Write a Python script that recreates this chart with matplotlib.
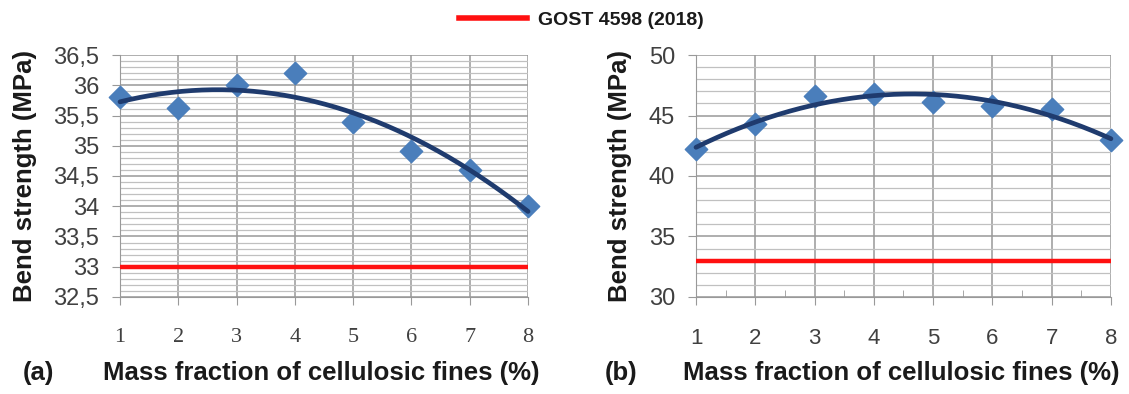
import numpy as np
import matplotlib.pyplot as plt
from matplotlib.lines import Line2D
from matplotlib.ticker import MultipleLocator, FuncFormatter

plt.rcParams['font.family'] = ['Liberation Sans', 'DejaVu Sans']

fraction = [1, 2, 3, 4, 5, 6, 7, 8]
strength_a = [35.8, 35.62, 36.0, 36.2, 35.4, 34.92, 34.6, 34.0]
strength_b = [42.2, 44.3, 46.6, 46.8, 46.1, 45.8, 45.5, 43.0]
gost_level = 33
gost_label = 'GOST 4598 (2018)'
xlabel = 'Mass fraction of cellulosic fines (%)'
ylabel = 'Bend strength (MPa)'

marker_col = '#4A7EBB'
trend_col = '#1F3B6E'
red = '#FF1010'
txt = '#1a1a1a'
tick_txt = '#404040'


def comma(v, pos):
    return ('%g' % v).replace('.', ',')


def draw(ax, y, ylim, major, minor, xfont):
    ax.set_xlim(1, 8)
    ax.set_ylim(*ylim)
    ax.yaxis.set_major_locator(MultipleLocator(major))
    ax.yaxis.set_minor_locator(MultipleLocator(minor))
    ax.yaxis.set_major_formatter(FuncFormatter(comma))
    ax.xaxis.set_major_locator(MultipleLocator(1))
    ax.grid(True, which='major', axis='both', color='#999999', lw=1.1)
    ax.grid(True, which='minor', axis='y', color='#c0c0c0', lw=0.9)
    ax.set_axisbelow(True)
    for s in ax.spines.values():
        s.set_visible(False)
    for side in ('bottom', 'left'):
        ax.spines[side].set_visible(True)
        ax.spines[side].set_color('#999999')
    ax.tick_params(axis='y', which='minor', length=0)
    ax.tick_params(axis='y', which='major', length=6, color='#999999',
                   pad=9, labelsize=17, labelcolor=tick_txt)
    ax.tick_params(axis='x', which='major', length=6, color='#999999',
                   pad=16, labelsize=16, labelcolor=tick_txt)
    for lab in ax.get_xticklabels():
        lab.set_family(xfont)

    ax.axhline(gost_level, color=red, lw=3.2, zorder=3)
    ax.scatter(fraction, y, marker='D', s=130, color=marker_col, zorder=4,
               clip_on=False)
    # polynomial trend line (order 2), as in the spreadsheet chart
    coef = np.polyfit(fraction, y, 2)
    xs = np.linspace(1, 8, 200)
    ax.plot(xs, np.polyval(coef, xs), color=trend_col, lw=3.4, zorder=5,
            clip_on=False, solid_capstyle='round')


fig = plt.figure(figsize=(11.29, 3.94), dpi=100)
ax1 = fig.add_axes([0.1063, 0.2462, 0.3614, 0.6142])
ax2 = fig.add_axes([0.6165, 0.2462, 0.3675, 0.6142])

draw(ax1, strength_a, (32.5, 36.5), 0.5, 0.1, 'Liberation Serif')
draw(ax2, strength_b, (30, 50), 5, 1, 'Liberation Sans')

ax2.xaxis.set_minor_locator(MultipleLocator(0.5))
ax2.tick_params(axis='x', which='minor', direction='in', length=5,
                color='#999999')

lab = dict(fontsize=18.5, fontweight='bold', color=txt)
fig.text(0.022, 0.553, ylabel, rotation=90, ha='center', va='center', **lab)
fig.text(0.549, 0.553, ylabel, rotation=90, ha='center', va='center', **lab)
fig.text(0.020, 0.035, '(a)', va='baseline', **lab)
fig.text(0.091, 0.035, xlabel, va='baseline', **lab)
fig.text(0.536, 0.035, '(b)', va='baseline', **lab)
fig.text(0.605, 0.035, xlabel, va='baseline', **lab)

handle = Line2D([], [], color=red, lw=4)
fig.legend([handle], [gost_label], loc='center',
           bbox_to_anchor=(0.515, 0.95), frameon=False,
           prop={'size': 14, 'weight': 'bold'}, handlelength=3.5,
           handletextpad=0.6, labelcolor=txt)

fig.savefig('out.png', dpi=100)
